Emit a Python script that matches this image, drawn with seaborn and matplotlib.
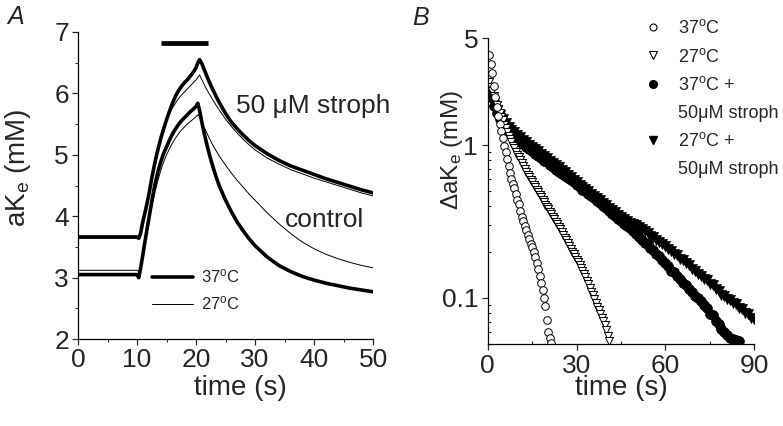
import numpy as np
import pandas as pd
import matplotlib
matplotlib.use("Agg")
import matplotlib.pyplot as plt
import seaborn as sns
from matplotlib.lines import Line2D
from matplotlib.ticker import MultipleLocator, FixedLocator, LogLocator, NullFormatter

# ---- Panel A: aKe traces (mM) vs time (s)
time_a = [0, 10, 10.3, 10.6, 11, 11.5, 12, 12.5, 13, 13.5,
          14, 14.5, 15, 15.5, 16, 16.5, 17, 17.5, 18, 18.5,
          19, 19.5, 20, 20.3, 20.6, 21, 21.5, 22, 22.5, 23,
          23.5, 24, 25, 26, 27, 28, 29, 30, 32, 34,
          36, 38, 40, 42, 44, 46, 48, 50]
ake_37_stroph = [3.66, 3.66, 3.64, 3.72, 3.92, 4.12, 4.35, 4.62, 4.86, 5.07,
                 5.26, 5.42, 5.57, 5.71, 5.84, 5.95, 6.04, 6.11, 6.17, 6.22,
                 6.28, 6.34, 6.42, 6.50, 6.55, 6.48, 6.36, 6.24, 6.13, 6.03,
                 5.93, 5.84, 5.67, 5.53, 5.42, 5.32, 5.23, 5.15, 5.02, 4.91,
                 4.82, 4.75, 4.68, 4.61, 4.55, 4.49, 4.43, 4.38]
ake_27_stroph = [3.68, 3.68, 3.66, 3.70, 3.85, 4.10, 4.38, 4.66, 4.92, 5.12,
                 5.29, 5.44, 5.56, 5.67, 5.76, 5.84, 5.91, 5.97, 6.02, 6.07,
                 6.12, 6.17, 6.22, 6.26, 6.30, 6.22, 6.12, 6.03, 5.95, 5.87,
                 5.79, 5.72, 5.58, 5.46, 5.35, 5.25, 5.16, 5.08, 4.95, 4.85,
                 4.76, 4.69, 4.62, 4.56, 4.50, 4.44, 4.38, 4.33]
ake_37_ctrl = [3.05, 3.05, 3.00, 3.15, 3.38, 3.68, 3.96, 4.24, 4.50, 4.71,
               4.88, 5.02, 5.13, 5.24, 5.34, 5.42, 5.49, 5.55, 5.60, 5.65,
               5.70, 5.74, 5.79, 5.84, 5.72, 5.52, 5.30, 5.10, 4.92, 4.76,
               4.61, 4.48, 4.26, 4.07, 3.90, 3.76, 3.63, 3.52, 3.34, 3.20,
               3.10, 3.02, 2.96, 2.91, 2.87, 2.83, 2.80, 2.77]
ake_27_ctrl = [3.12, 3.12, 3.10, 3.20, 3.40, 3.66, 3.92, 4.16, 4.38, 4.57,
               4.74, 4.88, 5.00, 5.10, 5.19, 5.27, 5.34, 5.40, 5.45, 5.50,
               5.54, 5.58, 5.62, 5.65, 5.62, 5.53, 5.42, 5.32, 5.22, 5.13,
               5.05, 4.97, 4.83, 4.70, 4.58, 4.47, 4.36, 4.26, 4.06, 3.88,
               3.72, 3.58, 3.47, 3.38, 3.31, 3.25, 3.20, 3.16]
stim_bar_t = [14.1, 22.1]
stim_bar_level = 6.82

# ---- Panel B: delta aKe (mM), log scale, vs time (s)
t_37_stroph = np.arange(0, 86, 1.0)
dk_37_stroph = [2.45, 2.05, 1.80, 1.62, 1.48, 1.37, 1.29, 1.22, 1.17, 1.12,
                1.08, 1.04, 1.01, 0.97, 0.94, 0.91, 0.88, 0.85, 0.82, 0.79,
                0.77, 0.74, 0.72, 0.69, 0.67, 0.65, 0.63, 0.61, 0.59, 0.57,
                0.55, 0.53, 0.51, 0.50, 0.48, 0.465, 0.45, 0.43, 0.415, 0.40,
                0.385, 0.37, 0.355, 0.345, 0.33, 0.32, 0.305, 0.295, 0.285, 0.273,
                0.262, 0.252, 0.24, 0.230, 0.224, 0.211, 0.205, 0.194, 0.188, 0.176,
                0.168, 0.161, 0.151, 0.147, 0.139, 0.134, 0.126, 0.122, 0.114, 0.11,
                0.103, 0.1, 0.095, 0.09, 0.086, 0.079, 0.077, 0.071, 0.068, 0.063,
                0.06, 0.057, 0.055, 0.054, 0.053, 0.052]
t_27_stroph = np.arange(0, 91, 1.0)
dk_27_stroph = [2.3, 2.0, 1.82, 1.68, 1.56, 1.47, 1.39, 1.32, 1.26, 1.21,
                1.16, 1.12, 1.08, 1.04, 1.0, 0.97, 0.94, 0.91, 0.88, 0.85,
                0.82, 0.79, 0.765, 0.74, 0.715, 0.69, 0.665, 0.64, 0.615, 0.592,
                0.57, 0.55, 0.532, 0.515, 0.497, 0.48, 0.465, 0.45, 0.435, 0.42,
                0.405, 0.39, 0.376, 0.363, 0.35, 0.338, 0.327, 0.318, 0.31, 0.306,
                0.298, 0.29, 0.283, 0.272, 0.265, 0.254, 0.249, 0.239, 0.233, 0.224,
                0.219, 0.209, 0.204, 0.195, 0.19, 0.181, 0.177, 0.169, 0.164, 0.155,
                0.15, 0.143, 0.14, 0.134, 0.131, 0.124, 0.121, 0.114, 0.111, 0.105,
                0.103, 0.098, 0.097, 0.092, 0.091, 0.086, 0.085, 0.08, 0.079, 0.074,
                0.073]
t_37_ctrl = np.arange(0.5, 21.75, 0.5)
dk_37_ctrl = [3.9, 3.4, 2.95, 2.45, 2.05, 1.78, 1.55, 1.38, 1.24, 1.11,
              0.99, 0.90, 0.81, 0.73, 0.66, 0.60, 0.56, 0.52, 0.48, 0.44,
              0.41, 0.37, 0.34, 0.32, 0.297, 0.277, 0.258, 0.242, 0.227, 0.214,
              0.200, 0.185, 0.170, 0.155, 0.14, 0.126, 0.113, 0.10, 0.088, 0.072,
              0.060, 0.055, 0.051]
t_27_ctrl = np.arange(0, 41.25, 0.5)
dk_27_ctrl = [2.75, 2.57, 2.40, 2.24, 2.09, 1.95, 1.83, 1.72, 1.62, 1.53,
              1.45, 1.36, 1.29, 1.22, 1.15, 1.09, 1.04, 0.99, 0.95, 0.905,
              0.867, 0.832, 0.796, 0.762, 0.73, 0.697, 0.667, 0.637, 0.614, 0.592,
              0.57, 0.55, 0.53, 0.51, 0.491, 0.473, 0.456, 0.44, 0.424, 0.408,
              0.394, 0.379, 0.366, 0.352, 0.34, 0.327, 0.315, 0.304, 0.292, 0.281,
              0.269, 0.258, 0.248, 0.238, 0.228, 0.219, 0.21, 0.201, 0.193, 0.185,
              0.178, 0.171, 0.164, 0.157, 0.15, 0.144, 0.137, 0.13, 0.123, 0.116,
              0.11, 0.104, 0.098, 0.093, 0.0875, 0.083, 0.0785, 0.0745, 0.0705, 0.0667,
              0.0617, 0.0562, 0.0525]

# Style
sns.set_style("ticks")
plt.rcParams["font.family"] = ["Liberation Sans", "DejaVu Sans"]
plt.rcParams["mathtext.fontset"] = "custom"
plt.rcParams["mathtext.rm"] = "Liberation Sans"
plt.rcParams["mathtext.it"] = "Liberation Sans:italic"
plt.rcParams["axes.linewidth"] = 0.9
plt.rcParams["axes.edgecolor"] = "black"

fig = plt.figure(figsize=(7.83, 4.26), dpi=100)
ax_a = fig.add_axes([0.0996, 0.204, 0.377, 0.721])
ax_b = fig.add_axes([0.623, 0.1925, 0.340, 0.718])

# ---- Panel A
traces = [(ake_27_ctrl, 0.7), (ake_27_stroph, 0.7), (ake_37_ctrl, 2.6), (ake_37_stroph, 2.6)]
for vals, lw in traces:
    sns.lineplot(x=time_a, y=vals, ax=ax_a, color="black", linewidth=lw,
                 estimator=None, sort=False, legend=False)
ax_a.plot(stim_bar_t, [stim_bar_level, stim_bar_level], color="black", lw=3.4,
          solid_capstyle="butt")

ax_a.set_xlim(0, 50)
ax_a.set_ylim(2, 7)
ax_a.xaxis.set_major_locator(MultipleLocator(10))
ax_a.xaxis.set_minor_locator(MultipleLocator(5))
ax_a.yaxis.set_major_locator(MultipleLocator(1))
ax_a.yaxis.set_minor_locator(MultipleLocator(0.5))
ax_a.tick_params(which="major", direction="out", length=4.5, width=0.9, labelsize=19, pad=2)
ax_a.tick_params(which="minor", direction="out", length=2.5, width=0.8)
sns.despine(ax=ax_a)
ax_a.set_xlabel("time (s)", fontsize=20)
ax_a.set_ylabel(r"aK$_\mathrm{e}$ (mM)", fontsize=20)
ax_a.xaxis.set_label_coords(0.549, -0.118)
ax_a.yaxis.set_label_coords(-0.153, 0.557)

ax_a.text(26.7, 5.79, "50 \u03bcM stroph", fontsize=19, va="center", ha="left")
ax_a.text(35.1, 3.94, "control", fontsize=19, va="center", ha="left")

leg_a = ax_a.legend(
    handles=[Line2D([], [], color="black", lw=2.6), Line2D([], [], color="black", lw=0.7)],
    labels=[r"37$^\mathrm{o}$C", r"27$^\mathrm{o}$C"],
    loc="center left", bbox_to_anchor=(0.25, 0.16), frameon=False, fontsize=12,
    handlelength=2.5, handletextpad=0.45, labelspacing=0.55, borderpad=0, borderaxespad=0)

# ---- Panel B
sns.scatterplot(x=t_37_stroph, y=dk_37_stroph, ax=ax_b, marker="o", s=50,
                color="black", edgecolor="black", linewidth=0.5, legend=False)
sns.scatterplot(x=t_27_stroph, y=dk_27_stroph, ax=ax_b, marker="v", s=52,
                color="black", edgecolor="black", linewidth=0.5, legend=False)
sns.scatterplot(x=t_27_ctrl, y=dk_27_ctrl, ax=ax_b, marker="v", s=34,
                facecolor="white", edgecolor="black", linewidth=0.7, legend=False)
sns.scatterplot(x=t_37_ctrl, y=dk_37_ctrl, ax=ax_b, marker="o", s=30,
                facecolor="white", edgecolor="black", linewidth=0.7, legend=False)

ax_b.set_yscale("log")
ax_b.set_xlim(0, 90)
ax_b.set_ylim(0.05, 5)
ax_b.xaxis.set_major_locator(FixedLocator([0, 30, 60, 90]))
ax_b.xaxis.set_minor_locator(FixedLocator([15, 45, 75]))
ax_b.yaxis.set_major_locator(FixedLocator([0.1, 1, 5]))
ax_b.set_yticklabels(["0.1", "1", "5"])
ax_b.yaxis.set_minor_locator(LogLocator(base=10, subs=np.arange(2, 10)))
ax_b.yaxis.set_minor_formatter(NullFormatter())
ax_b.tick_params(which="major", direction="out", length=4, width=0.9, labelsize=19, pad=3)
ax_b.tick_params(which="minor", direction="in", length=2.5, width=0.8)
sns.despine(ax=ax_b)
ax_b.set_xlabel("time (s)", fontsize=20)
ax_b.set_ylabel(r"$\Delta$aK$_\mathrm{e}$ (mM)", fontsize=17.5)
ax_b.xaxis.set_label_coords(0.5, -0.1)
ax_b.yaxis.set_label_coords(-0.086, 0.634)

blank = Line2D([], [], ls="none", marker=None)
leg_b = ax_b.legend(
    handles=[Line2D([], [], ls="none", marker="o", ms=5, mfc="white", mec="black", mew=0.8),
             Line2D([], [], ls="none", marker="v", ms=5.5, mfc="white", mec="black", mew=0.8),
             Line2D([], [], ls="none", marker="o", ms=5.5, mfc="black", mec="black"),
             blank,
             Line2D([], [], ls="none", marker="v", ms=6, mfc="black", mec="black"),
             blank],
    labels=[r"37$^\mathrm{o}$C", r"27$^\mathrm{o}$C", r"37$^\mathrm{o}$C +", "50\u03bcM stroph",
            r"27$^\mathrm{o}$C +", "50\u03bcM stroph"],
    loc="upper left", bbox_to_anchor=(0.586, 1.062), frameon=False, fontsize=13,
    handlelength=1.0, handletextpad=0.9, labelspacing=0.58, borderpad=0, borderaxespad=0)

# Panel letters
fig.text(0.009, 0.988, "A", fontsize=18, fontstyle="italic", va="top", ha="left")
fig.text(0.526, 0.985, "B", fontsize=18, fontstyle="italic", va="top", ha="left")

fig.savefig("out.png", dpi=100)
